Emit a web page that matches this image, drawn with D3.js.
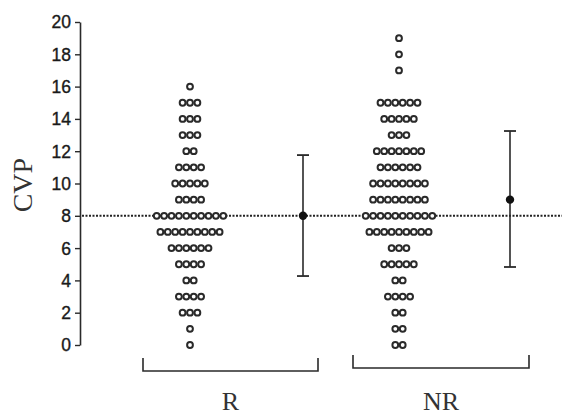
<!DOCTYPE html>
<html><head><meta charset="utf-8">
<script src="https://cdn.jsdelivr.net/npm/d3@7"></script>
<style>body{margin:0;background:#fff}svg{display:block}</style>
</head><body>
<svg id="c" width="562" height="417"></svg>
<script>
const groups = ["R", "NR"];
const cvpLevels = [0,1,2,3,4,5,6,7,8,9,10,11,12,13,14,15,16,17,18,19];
const rCounts  = [1,1,3,4,2,4,6,9,10,4,5,4,2,3,3,3,1,0,0,0];
const nrCounts = [2,2,2,4,2,5,3,9,10,8,8,6,7,3,5,6,0,1,1,1];
const means = [8, 9];
const lowers = [4.27, 4.83];
const uppers = [11.76, 13.25];
const yTicks = [0,2,4,6,8,10,12,14,16,18,20];
const refLine = 8;

const svg = d3.select("#c");
const y = d3.scaleLinear().domain([0, 20]).range([345, 22]);
const groupCenter = d3.scaleOrdinal().domain(groups).range([190, 399]);
const errX = d3.scaleOrdinal().domain(groups).range([303, 510]);
const bracket = d3.scaleOrdinal().domain(groups).range([[143, 318], [353, 529]]);
const bracketY = d3.scaleOrdinal().domain(groups).range([371, 368]);
const spacing = 7.4;
const ink = "#2a2a2a";

// y axis
const ax = svg.append("g").attr("transform", "translate(80,0)")
  .call(d3.axisLeft(y).tickValues(yTicks).tickSize(5).tickPadding(4).tickSizeOuter(0));
ax.select(".domain").attr("stroke", ink).attr("stroke-width", 1.6);
ax.selectAll(".tick line").attr("stroke", ink).attr("stroke-width", 1.4);
ax.selectAll(".tick text").attr("font-family", "Liberation Sans, Arial, sans-serif")
  .attr("font-size", 17.5).attr("fill", "#1a1a1a").attr("stroke", "#1a1a1a").attr("stroke-width", 0.35)
  .attr("dy", "0.34em");

// y label
svg.append("text").attr("transform", `translate(32,${y(9.9)}) rotate(-90)`)
  .attr("text-anchor", "middle").attr("font-family", "Liberation Serif, Times New Roman, serif")
  .attr("font-size", 28).attr("fill", "#333").text("CVP");

// reference dotted line
svg.append("line").attr("x1", 82).attr("x2", 562).attr("y1", y(refLine)).attr("y2", y(refLine))
  .attr("stroke", "#222").attr("stroke-width", 2).attr("stroke-dasharray", "2,1.5");

// dots
const counts = {R: rCounts, NR: nrCounts};
const pts = [];
groups.forEach(g => {
  cvpLevels.forEach((v, i) => {
    const n = counts[g][i];
    for (let k = 0; k < n; k++) pts.push({g, v, off: (k - (n - 1) / 2) * spacing});
  });
});
svg.append("g").selectAll("circle").data(pts).join("circle")
  .attr("cx", d => groupCenter(d.g) + d.off).attr("cy", d => y(d.v)).attr("r", 2.9)
  .attr("fill", "#fff").attr("stroke", "#2a2a2a").attr("stroke-width", 2);

// error bars
groups.forEach((g, i) => {
  const x = errX(g);
  const e = svg.append("g");
  e.append("line").attr("x1", x).attr("x2", x).attr("y1", y(uppers[i])).attr("y2", y(lowers[i]))
    .attr("stroke", ink).attr("stroke-width", 1.6);
  [uppers[i], lowers[i]].forEach(v => e.append("line").attr("x1", x - 6).attr("x2", x + 6)
    .attr("y1", y(v)).attr("y2", y(v)).attr("stroke", ink).attr("stroke-width", 1.8));
  e.append("circle").attr("cx", x).attr("cy", y(means[i])).attr("r", 4.2).attr("fill", "#111");
});

// brackets and group labels
groups.forEach(g => {
  const [x0, x1] = bracket(g);
  const by = bracketY(g);
  svg.append("path").attr("d", `M${x0},${by - 13}V${by}H${x1}V${by - 13}`)
    .attr("fill", "none").attr("stroke", ink).attr("stroke-width", 1.6);
  svg.append("text").attr("x", (x0 + x1) / 2).attr("y", 410).attr("text-anchor", "middle")
    .attr("font-family", "Liberation Serif, Times New Roman, serif").attr("font-size", 26)
    .attr("fill", "#333").text(g);
});
</script>
</body></html>
